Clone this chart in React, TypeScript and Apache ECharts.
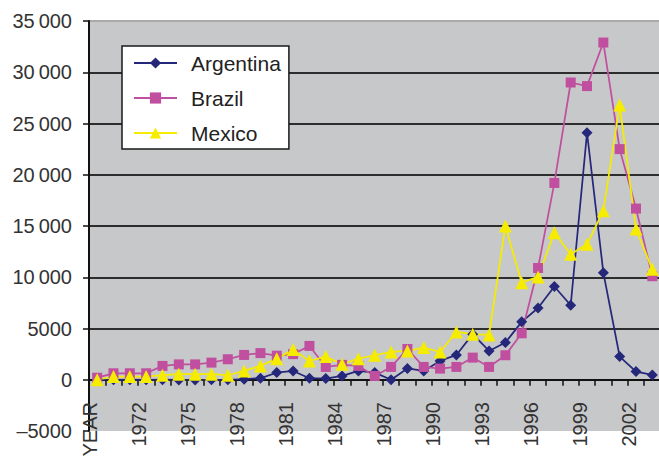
import React, { useEffect, useRef } from "react";
import * as echarts from "echarts";

const categories = [
  "YEAR", "1970", "1971", "1972", "1973", "1974", "1975", "1976", "1977", "1978",
  "1979", "1980", "1981", "1982", "1983", "1984", "1985", "1986", "1987", "1988",
  "1989", "1990", "1991", "1992", "1993", "1994", "1995", "1996", "1997", "1998",
  "1999", "2000", "2001", "2002", "2003",
];

const argentina = [
  10, -10, 10, -10, 10, -20, -20, 0, 0, 50,
  150, 700, 860, 150, 110, 370, 860, 700, 0, 1100,
  860, 1840, 2420, 4450, 2810, 3630, 5650, 7000, 9100, 7270,
  24100, 10450, 2260, 800, 470,
];

const brazil = [
  200, 630, 630, 630, 1350, 1500, 1500, 1670, 2000, 2420,
  2600, 2350, 2500, 3300, 1250, 1450, 1350, 370, 1250, 3000,
  1250, 1090, 1250, 2160, 1250, 2390, 4530, 10900, 19200, 29000,
  28650, 32900, 22500, 16700, 10100,
];

const mexico = [
  0, 310, 310, 310, 440, 540, 540, 540, 440, 860,
  1350, 2060, 2940, 1830, 2260, 1510, 2060, 2390, 2710, 2810,
  3140, 2710, 4660, 4440, 4370, 15000, 9470, 10030, 14350, 12240,
  13210, 16500, 26800, 14700, 10770,
];

const yTicks = [-5000, 0, 5000, 10000, 15000, 20000, 25000, 30000, 35000];
const yTickLabels = ["\u20135000", "0", "5000", "10\u2009000", "15\u2009000", "20\u2009000", "25\u2009000", "30\u2009000", "35\u2009000"];

const FONT = "'Liberation Sans', Arial, Helvetica, sans-serif";

export default function App() {
  const ref = useRef<HTMLDivElement>(null);

  useEffect(() => {
    if (!ref.current) return;
    const chart = echarts.init(ref.current, undefined, { renderer: "svg" });
    const mk = (name: string, data: number[], color: string, symbol: string, size: number) => ({
      name,
      type: "line",
      data,
      symbol,
      symbolSize: size,
      showAllSymbol: true,
      lineStyle: { color, width: 1.75 },
      itemStyle: { color },
      emphasis: { disabled: true },
    });
    chart.setOption({
      animation: false,
      textStyle: { fontFamily: FONT },
      grid: {
        left: 89,
        top: 21,
        width: 571.5,
        height: 410,
        show: true,
        backgroundColor: "#c7c8ca",
        borderWidth: 0,
        containLabel: false,
        outerBoundsMode: "none",
      },
      legend: {
        orient: "vertical",
        left: 122,
        top: 46,
        padding: [5, 8, 4, 11],
        itemWidth: 43,
        itemHeight: 14,
        itemGap: 11,
        backgroundColor: "#ffffff",
        borderColor: "#1a1a1a",
        borderWidth: 1.5,
        borderRadius: 0,
        textStyle: { fontSize: 21, color: "#222", fontFamily: FONT, lineHeight: 24, padding: [0, 0, 0, 9] },
        data: ["Argentina", "Brazil", "Mexico"],
      },
      xAxis: {
        type: "category",
        data: categories,
        boundaryGap: true,
        axisLine: { onZero: true, lineStyle: { color: "#111", width: 2 } },
        axisTick: { show: true, interval: 0, length: 6, lineStyle: { color: "#111", width: 1.5 } },
        axisLabel: {
          interval: 2,
          rotate: 90,
          margin: -29,
          fontSize: 20,
          color: "#333",
          fontFamily: FONT,
          verticalAlign: "bottom",
          lineHeight: 14,
        },
        splitLine: { show: false },
      },
      yAxis: {
        type: "value",
        min: -5000,
        max: 35000,
        interval: 5000,
        axisLine: { show: true, lineStyle: { color: "#111", width: 2 } },
        axisTick: { show: true, length: 6, lineStyle: { color: "#111", width: 1.5 } },
        axisLabel: {
          margin: 17,
          fontSize: 20,
          color: "#333",
          fontFamily: FONT,
          formatter: (v: number) => {
            const i = yTicks.indexOf(v);
            return i >= 0 ? yTickLabels[i] : String(v);
          },
        },
        splitLine: {
          show: true,
          lineStyle: {
            width: 2,
            color: ["rgba(0,0,0,0)", "#222", "#2d2d2d", "#2d2d2d", "#2d2d2d", "#2d2d2d", "#2d2d2d", "#2d2d2d", "#a9a9a9"],
          },
        },
      },
      series: [
        mk("Argentina", argentina, "#25287a", "diamond", 11),
        mk("Brazil", brazil, "#c0509f", "rect", 10),
        mk("Mexico", mexico, "#f5ec00", "triangle", 13),
      ],
    });
    return () => chart.dispose();
  }, []);

  return <div ref={ref} style={{ position: "absolute", left: 0, top: 0, width: 659, height: 462 }} />;
}
